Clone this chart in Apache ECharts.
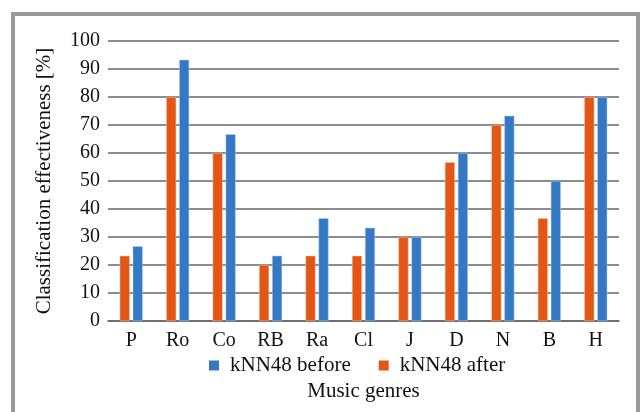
<!DOCTYPE html>
<html><head><meta charset="utf-8">
<script src="https://cdn.jsdelivr.net/npm/echarts@6/dist/echarts.min.js"></script>
<style>html,body{margin:0;padding:0;background:#fff}#c{width:644px;height:412px}</style>
</head><body><div id="c"></div>
<script>
const categories = ['P','Ro','Co','RB','Ra','Cl','J','D','N','B','H'];
const afterValues = [23.3, 80, 60, 20, 23.3, 23.3, 30, 56.7, 70, 36.7, 80];
const beforeValues = [26.7, 93.3, 66.7, 23.3, 36.7, 33.3, 30, 60, 73.3, 50, 80];
const yTicks = [0,10,20,30,40,50,60,70,80,90,100];

const font = 'Liberation Serif, Times New Roman, serif';
const chart = echarts.init(document.getElementById('c'), null, {renderer:'canvas'});
chart.setOption({
  animation:false,
  backgroundColor:'#fff',
  graphic:[{type:'rect', shape:{x:13,y:14,width:625,height:430}, style:{fill:'none', stroke:'#9a9a9a', lineWidth:4}, silent:true}],
  grid:{left:108, right:25, top:41, bottom:91},
  legend:{
    data:['kNN48 before','kNN48 after'],
    top:350, left:204,
    itemWidth:10, itemHeight:10, itemGap:28,
    icon:'rect',
    itemStyle:{borderWidth:0},
    textStyle:{fontFamily:font, fontSize:21, color:'#111', padding:[0,0,0,6]}
  },
  xAxis:{
    type:'category', data:categories,
    name:'Music genres', nameLocation:'middle', nameGap:60,
    nameTextStyle:{fontFamily:font, fontSize:21, color:'#111'},
    axisLine:{lineStyle:{color:'#666', width:1.5}},
    axisTick:{show:false},
    axisLabel:{fontFamily:font, fontSize:20, color:'#111', margin:10}
  },
  yAxis:{
    type:'value', min:0, max:100, interval:10,
    name:'Classification effectiveness [%]', nameLocation:'middle', nameGap:53, nameRotate:90,
    nameTextStyle:{fontFamily:font, fontSize:21, color:'#111'},
    axisLine:{show:false}, axisTick:{show:false},
    axisLabel:{fontFamily:font, fontSize:20, color:'#111', margin:8,
      formatter:v=> yTicks.includes(v)? String(v):''},
    splitLine:{lineStyle:{color:'#666', width:1.5}}
  },
  series:[
    {name:'kNN48 after', type:'bar', data:afterValues, barWidth:10, barGap:'30%',
     itemStyle:{color:'#E35615', borderColor:'#f7c7b0', borderWidth:0.5}},
    {name:'kNN48 before', type:'bar', data:beforeValues, barWidth:10, barGap:'30%',
     itemStyle:{color:'#3578C4', borderColor:'#b9d0ee', borderWidth:0.5}}
  ]
});
</script></body></html>
